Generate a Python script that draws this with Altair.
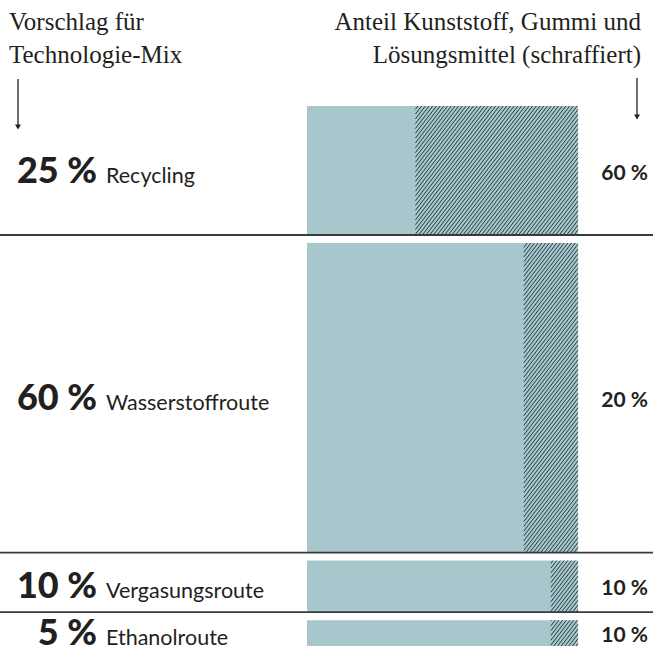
import altair as alt
import pandas as pd

# ---------------- data ----------------
techs = ["Recycling", "Wasserstoffroute", "Vergasungsroute", "Ethanolroute"]
mix = [25, 60, 10, 5]                      # Vorschlag für Technologie-Mix (%)
hatched = [60, 20, 10, 10]                 # Anteil Kunststoff, Gummi, Lösungsmittel (%)
mix_labels = ["25 %", "60 %", "10 %", "5 %"]
hatched_labels = ["60 %", "20 %", "10 %", "10 %"]
header_left = ["Vorschlag für", "Technologie-Mix"]
header_right = ["Anteil Kunststoff, Gummi und", "Lösungsmittel (schraffiert)"]

# ---------------- layout ----------------
W, H = 653, 654
BAR_L, BAR_R = 307, 578          # px range of a 0..100 % bar
TOP = 106                        # px of first row top
PXP = 5.16                       # px per mix-percent
GAP = 1.55                       # gap between rows, in mix-percent units
XS = (BAR_R - BAR_L) / 100.0

x_dom = [-BAR_L / XS, (W - BAR_L) / XS]
y_dom = [-TOP / PXP, (H - TOP) / PXP]
xs = alt.Scale(domain=x_dom, nice=False, zero=False)
ys = alt.Scale(domain=y_dom, nice=False, zero=False, reverse=True)

rows = []
start = 0.0
for t, m, h, ml, hl in zip(techs, mix, hatched, mix_labels, hatched_labels):
    rows.append(dict(tech=t, mix=m, hatched=h, mix_label=ml, hatched_label=hl,
                     y0=start, y1=start + m, mid=start + m / 2,
                     x0=0, x1=100, hx0=100 - h))
    start += m + GAP
df = pd.DataFrame(rows)
sep = df.iloc[:-1].copy()

# hatch lines derived from each row's hatched share
K = 1.3        # slope of hatch lines (px)
STEP = 3.7     # horizontal spacing in px
hatch = []
for r in rows:
    px0 = BAR_L + XS * r["hx0"]
    px1 = BAR_R
    py0 = TOP + PXP * r["y0"]
    py1 = TOP + PXP * r["y1"]
    cstep = K * STEP
    c = (int((K * px0 + py0) / cstep)) * cstep
    while c <= K * px1 + py1:
        xa = max(px0, (c - py1) / K)
        xb = min(px1, (c - py0) / K)
        if xa < xb:
            hatch.append(dict(x=(xa - BAR_L) / XS, x2=(xb - BAR_L) / XS,
                              y=((c - K * xa) - TOP) / PXP,
                              y2=((c - K * xb) - TOP) / PXP))
        c += cstep
hdf = pd.DataFrame(hatch)

TEAL = "#a7c7cd"
INK = "#231f20"
SANS = "Lato"
SERIF = "Liberation Serif"

bars = alt.Chart(df).mark_rect(color=TEAL).encode(
    x=alt.X("x0:Q", scale=xs, axis=None), x2="x1:Q",
    y=alt.Y("y0:Q", scale=ys, axis=None), y2="y1:Q")

hatch_l = alt.Chart(hdf).mark_rule(color="#263c41", strokeWidth=1).encode(
    x=alt.X("x:Q", scale=xs, axis=None), x2="x2:Q",
    y=alt.Y("y:Q", scale=ys, axis=None), y2="y2:Q")

sep_l = alt.Chart(sep).mark_rule(color="#3a3a3a", strokeWidth=1.8).encode(
    x=alt.value(0), x2=alt.value(W),
    y=alt.Y("y1:Q", scale=ys, axis=None))

big = alt.Chart(df).mark_text(align="right", baseline="alphabetic", font=SANS,
                              fontWeight=900, fontSize=36, color=INK, dy=12).encode(
    x=alt.value(97), y=alt.Y("mid:Q", scale=ys, axis=None), text="mix_label:N")

names = alt.Chart(df).mark_text(align="left", baseline="alphabetic", font=SANS,
                                fontSize=21.5, color=INK, dy=12).encode(
    x=alt.value(106), y=alt.Y("mid:Q", scale=ys, axis=None), text="tech:N")

right = alt.Chart(df).mark_text(align="right", baseline="alphabetic", font=SANS,
                                fontWeight="bold", fontSize=21, color=INK, dy=9).encode(
    x=alt.value(648), y=alt.Y("mid:Q", scale=ys, axis=None), text="hatched_label:N")

hl = pd.DataFrame({"t": header_left, "line": [0, 1]})
hr = pd.DataFrame({"t": header_right, "line": [0, 1]})
head_scale = alt.Scale(domain=[0, 1], range=[30, 63])
head_l = alt.Chart(hl).mark_text(align="left", baseline="alphabetic", font=SERIF,
                                 fontSize=25, color=INK).encode(
    x=alt.value(9), y=alt.Y("line:Q", scale=head_scale, axis=None), text="t:N")
head_r = alt.Chart(hr).mark_text(align="right", baseline="alphabetic", font=SERIF,
                                 fontSize=25, color=INK).encode(
    x=alt.value(641), y=alt.Y("line:Q", scale=head_scale, axis=None), text="t:N")

one = pd.DataFrame({"a": [0]})
arr_l = alt.Chart(one).mark_rule(color=INK, strokeWidth=1.3).encode(
    x=alt.value(18), y=alt.value(79), y2=alt.value(127))
arr_l_h = alt.Chart(one).mark_point(shape="triangle-down", filled=True, color=INK,
                                    size=36, opacity=1).encode(
    x=alt.value(18), y=alt.value(127))
arr_r = alt.Chart(one).mark_rule(color=INK, strokeWidth=1.3).encode(
    x=alt.value(637), y=alt.value(78), y2=alt.value(117))
arr_r_h = alt.Chart(one).mark_point(shape="triangle-down", filled=True, color=INK,
                                    size=36, opacity=1).encode(
    x=alt.value(637), y=alt.value(117))

chart = alt.layer(
    bars, hatch_l, sep_l, big, names, right, head_l, head_r,
    arr_l, arr_l_h, arr_r, arr_r_h
).resolve_scale(y="independent").properties(
    width=W, height=H, autosize=alt.AutoSizeParams(type="none"), padding=0,
    background="white"
).configure_view(stroke=None)

chart.save("out.html", embed_options={"renderer": "svg", "actions": False})
